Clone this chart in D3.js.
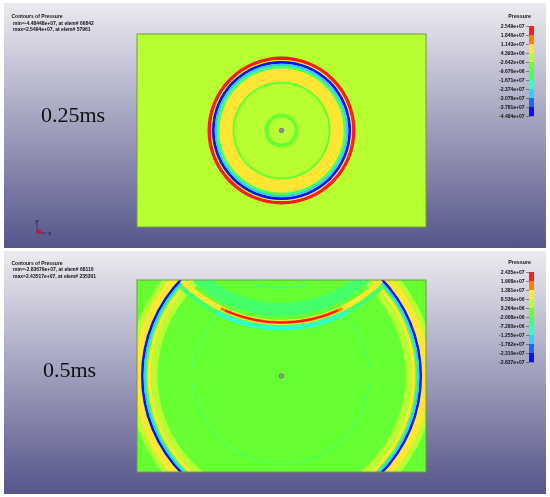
<!DOCTYPE html>
<html>
<head>
<meta charset="utf-8">
<script src="https://cdn.jsdelivr.net/npm/d3@7"></script>
<style>
  html, body { margin: 0; padding: 0; background: #fff; }
  svg { display: block; }
</style>
</head>
<body>
<div id="chart"></div>
<script>
// legend values, high to low
const topTicks = ['2.549e+07', '1.846e+07', '1.143e+07', '4.393e+06', '-2.642e+06', '-9.676e+06', '-1.671e+07', '-2.374e+07', '-3.078e+07', '-3.781e+07', '-4.484e+07'];
const bottomTicks = ['2.435e+07', '1.908e+07', '1.381e+07', '8.536e+06', '3.264e+06', '-2.008e+06', '-7.280e+06', '-1.255e+07', '-1.782e+07', '-2.310e+07', '-2.837e+07'];
const fringeColors = ['#ff1a1a', '#ff8000', '#ffe633', '#b8ff33', '#66ff33', '#45ff6a', '#33ffc4', '#33ccff', '#1a66ff', '#0a0aff'];

// 0.25ms wave fronts: radius band and pressure
const topInner = [70.5, 69.5, 66.8, 64.5, 62, 49, 47, 13];
const topOuter = [74, 70.5, 69.5, 66.8, 64.5, 62, 49, 17];
const topPressure = [2.2e7, 7e6, -4.1e7, -2.7e7, -1.2e7, 7e6, -5e6, -5e6];

// 0.5ms outgoing wave fronts
const bottomInner = [148, 140.5, 138, 136, 134, 130.5, 124, 87.5];
const bottomOuter = [153, 148, 140.5, 138, 136, 134, 130.5, 88.5];
const bottomPressure = [5e6, 1.1e7, -2.6e7, -1.5e7, -5e6, 1.1e7, 5e6, -5e6];
const bottomSpread = [180, 180, 180, 180, 180, 180, 180, 131];

// 0.5ms wave reflected from the upper edge, spread in degrees either side of straight down
const reflectedInner = [103, 119, 141.5, 142, 136, 137, 137.5];
const reflectedOuter = [105, 132, 146, 146.5, 141, 140, 139.5];
const reflectedPressure = [-5e6, -5e6, -5e6, -1e7, 1e7, 1.6e7, 2.1e7];
const reflectedSpread = [14, 42, 44, 27, 46, 26, 24];

const width = 550;
const height = 497;

const svg = d3.select('#chart').append('svg')
  .attr('width', width)
  .attr('height', height);
const defs = svg.append('defs');

const bg = defs.append('linearGradient')
  .attr('id', 'panelBg')
  .attr('x1', '0%').attr('y1', '0%')
  .attr('x2', '0%').attr('y2', '100%');
bg.append('stop').attr('offset', '0%').style('stop-color', '#ecebf0');
bg.append('stop').attr('offset', '100%').style('stop-color', '#55558a');

// the reference is a soft, scaled down screenshot
function softFilter(id, amount) {
  defs.append('filter')
    .attr('id', id)
    .attr('filterUnits', 'userSpaceOnUse')
    .attr('x', 0).attr('y', 0)
    .attr('width', width).attr('height', height)
    .append('feGaussianBlur')
    .attr('stdDeviation', amount);
}
softFilter('soft', 0.7);
softFilter('softPlot', 0.7);

const root = svg.append('g').attr('filter', 'url(#soft)');

function rings(g, inner, outer, pressure, spread, x, fringe, cy) {
  const arc = d3.arc();
  g.append('g')
    .attr('transform', `translate(${x(0)} ${cy})`)
    .selectAll('path')
    .data(inner.map((d, i) => i))
    .enter()
    .append('path')
    .attr('fill', i => fringe(pressure[i]))
    .attr('d', i => {
      const half = (spread ? spread[i] : 180) * Math.PI / 180;
      return arc({
        innerRadius: x(inner[i]) - x(0),
        outerRadius: x(outer[i]) - x(0),
        startAngle: Math.PI - half,
        endAngle: Math.PI + half
      });
    });
}

function drawPanel(p) {
  const g = root.append('g');

  g.append('rect')
    .attr('x', 4).attr('y', p.panelTop)
    .attr('width', 542).attr('height', p.panelBottom - p.panelTop)
    .attr('fill', 'url(#panelBg)');

  // fringe scale, thresholds ascending
  const values = p.ticks.map(Number);
  const fringe = d3.scaleThreshold()
    .domain(values.slice(1, -1).reverse())
    .range(fringeColors.slice().reverse());

  // model units either side of the blast point
  const x = d3.scaleLinear().domain([-144.5, 144.5]).range([p.left, p.left + 289]);
  const plotHeight = p.plotBottom - p.plotTop;
  const cy = p.plotTop + plotHeight / 2;

  const clipId = 'clip' + p.id;
  defs.append('clipPath').attr('id', clipId)
    .append('rect')
    .attr('x', p.left).attr('y', p.plotTop)
    .attr('width', 289).attr('height', plotHeight);

  g.append('rect')
    .attr('x', p.left).attr('y', p.plotTop)
    .attr('width', 289).attr('height', plotHeight)
    .attr('fill', fringe(0));

  const plot = g.append('g').attr('clip-path', `url(#${clipId})`)
    .append('g').attr('filter', 'url(#softPlot)');
  rings(plot, p.inner, p.outer, p.pressure, p.spread, x, fringe, cy);
  if (p.reflected) {
    // mirror image of the centre over the upper edge
    const mirror = 2 * p.plotTop - cy;
    rings(plot, p.reflected.inner, p.reflected.outer, p.reflected.pressure, p.reflected.spread, x, fringe, mirror);
  }

  g.append('rect')
    .attr('x', p.left).attr('y', p.plotTop)
    .attr('width', 289).attr('height', plotHeight)
    .attr('fill', 'none')
    .attr('stroke', '#6f9a45')
    .attr('stroke-width', 1);

  g.append('circle')
    .attr('cx', x(0)).attr('cy', cy)
    .attr('r', 2.2)
    .attr('fill', p.dotFill)
    .attr('stroke', '#77778f')
    .attr('stroke-width', 1);

  // header text
  const head = g.append('g')
    .style('font-family', '"Liberation Sans", sans-serif')
    .style('font-size', '5px')
    .style('font-weight', 'bold')
    .attr('fill', '#111');
  head.selectAll('text').data(p.header).enter()
    .append('text')
    .attr('x', (d, i) => i === 0 ? 11.5 : 13)
    .attr('y', (d, i) => p.headerY + i * 6.6)
    .text(d => d);

  g.append('text')
    .attr('x', p.labelX).attr('y', p.labelY)
    .style('font-family', '"Liberation Serif", serif')
    .style('font-size', '22px')
    .attr('fill', '#111')
    .text(p.label);

  // legend bar and its axis
  const legendY = d3.scalePoint()
    .domain(p.ticks)
    .range([p.legendTop, p.legendBottom]);
  const step = legendY.step();
  g.append('g').selectAll('rect')
    .data(fringeColors)
    .enter()
    .append('rect')
    .attr('x', 529)
    .attr('y', (d, i) => legendY(p.ticks[i]))
    .attr('width', 5)
    .attr('height', step + 0.3)
    .attr('fill', d => d);

  const axis = g.append('g')
    .attr('transform', 'translate(529 0)')
    .call(d3.axisLeft(legendY).tickSize(3).tickPadding(1.5));
  axis.select('.domain').remove();
  axis.selectAll('line').attr('stroke', '#444').attr('stroke-width', 0.6);
  axis.selectAll('text')
    .style('font-family', '"Liberation Sans", sans-serif')
    .style('font-size', '5px')
    .style('font-weight', 'bold')
    .attr('fill', '#111');

  g.append('text')
    .attr('x', 531).attr('y', p.titleY)
    .attr('text-anchor', 'end')
    .style('font-family', '"Liberation Sans", sans-serif')
    .style('font-size', '5.3px')
    .style('font-weight', 'bold')
    .attr('fill', '#111')
    .text('Pressure');
}

drawPanel({
  id: 'Top', ticks: topTicks, panelTop: 3, panelBottom: 248,
  left: 137, plotTop: 34, plotBottom: 227,
  inner: topInner, outer: topOuter, pressure: topPressure,
  dotFill: '#8c8ca8',
  header: ['Contours of Pressure', 'min=-4.48448e+07, at elem# 66842', 'max=2.5494e+07, at elem# 57961'],
  headerY: 18, label: '0.25ms', labelX: 41, labelY: 122,
  legendTop: 26, legendBottom: 116, titleY: 18
});

drawPanel({
  id: 'Bottom', ticks: bottomTicks, panelTop: 251, panelBottom: 494,
  left: 137, plotTop: 280, plotBottom: 472,
  inner: bottomInner, outer: bottomOuter, pressure: bottomPressure, spread: bottomSpread,
  reflected: { inner: reflectedInner, outer: reflectedOuter, pressure: reflectedPressure, spread: reflectedSpread },
  dotFill: '#7fb060',
  header: ['Contours of Pressure', 'min=-2.83679e+07, at elem# 68110', 'max=2.43517e+07, at elem# 235301'],
  headerY: 264.5, label: '0.5ms', labelX: 43, labelY: 377,
  legendTop: 272, legendBottom: 362, titleY: 264
});

// coordinate triad, top panel only
const triad = root.append('g');
triad.append('line').attr('x1', 37).attr('y1', 233).attr('x2', 37).attr('y2', 224).attr('stroke', '#2a3f8f').attr('stroke-width', 1);
triad.append('line').attr('x1', 37).attr('y1', 233).attr('x2', 47).attr('y2', 233).attr('stroke', '#2a3f8f').attr('stroke-width', 1);
triad.append('path').attr('d', d3.line()([[37, 233], [37, 228], [44, 233]])).attr('fill', '#e0102a');
triad.append('text').attr('x', 37).attr('y', 223).attr('text-anchor', 'middle')
  .style('font-family', '"Liberation Sans", sans-serif').style('font-size', '6px').style('font-weight', 'bold').attr('fill', '#1d2a60').text('y');
triad.append('text').attr('x', 48).attr('y', 234.5)
  .style('font-family', '"Liberation Sans", sans-serif').style('font-size', '6px').style('font-weight', 'bold').attr('fill', '#1d2a60').text('x');
</script>
</body>
</html>
